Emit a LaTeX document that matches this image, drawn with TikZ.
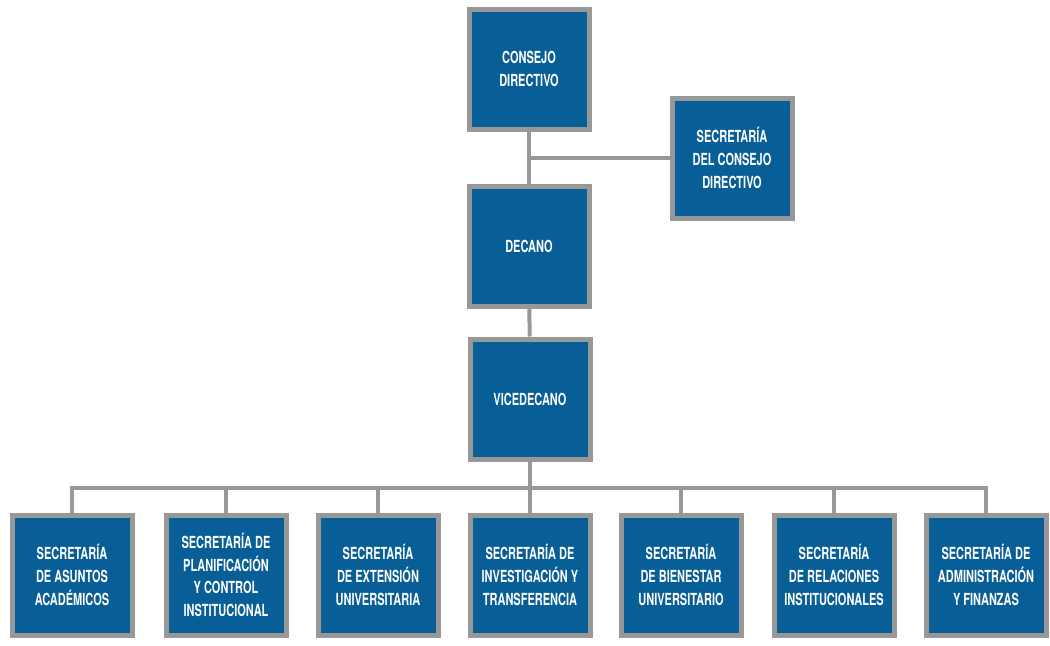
\documentclass[tikz,border=0pt]{standalone}
\usepackage{fontspec}
\newfontfamily\orgfont{TeX Gyre Heros}[FakeStretch=0.66]
\definecolor{orgblue}{RGB}{8,94,150}
\definecolor{orggray}{RGB}{152,152,152}
\begin{document}
\begin{tikzpicture}[x=0.75pt,y=-0.75pt,
    orgbox/.style={draw=orggray,line width=3.75pt,fill=orgblue,text=white,
        minimum width=90pt,minimum height=90pt,inner sep=0pt,align=center,
        font=\orgfont\bfseries\fontsize{12.5pt}{17pt}\selectfont},
    orgline/.style={draw=orggray,line width=3pt}]
            \useasboundingbox (0,0) rectangle (1050,646);
            \node[orgbox] at (529,69) (cd) {CONSEJO\\DIRECTIVO};
            \node[orgbox] at (732,158) (scd) {SECRETARÍA\\DEL CONSEJO\\DIRECTIVO};
            \node[orgbox] at (529,246) (dec) {DECANO};
            \node[orgbox] at (530,399) (vd) {VICEDECANO};
            \node[orgbox] at (72,575) (s1) {SECRETARÍA\\DE ASUNTOS\\ACADÉMICOS};
            \node[orgbox] at (226,575) (s2) {SECRETARÍA DE\\PLANIFICACIÓN\\Y CONTROL\\INSTITUCIONAL};
            \node[orgbox] at (378,575) (s3) {SECRETARÍA\\DE EXTENSIÓN\\UNIVERSITARIA};
            \node[orgbox] at (530,575) (s4) {SECRETARÍA DE\\INVESTIGACIÓN Y\\TRANSFERENCIA};
            \node[orgbox] at (681,575) (s5) {SECRETARÍA\\DE BIENESTAR\\UNIVERSITARIO};
            \node[orgbox] at (834,575) (s6) {SECRETARÍA\\DE RELACIONES\\INSTITUCIONALES};
            \node[orgbox] at (986,575) (s7) {SECRETARÍA DE\\ADMINISTRACIÓN\\Y FINANZAS};
            \coordinate (bus) at (530,488);

            \draw[orgline] (cd) -- (dec);
            \draw[orgline] (scd.west) -- (scd.west -| cd);
            \draw[orgline] (dec) -- (vd);
            \draw[orgline] (vd) -- (s4);
            \draw[orgline] (s1.north) |- (bus) -| (s7.north);
            \foreach \s in {s2,s3,s5,s6}
                \draw[orgline] (\s.north) -- (\s.north |- bus);
        \end{tikzpicture}
\end{document}
